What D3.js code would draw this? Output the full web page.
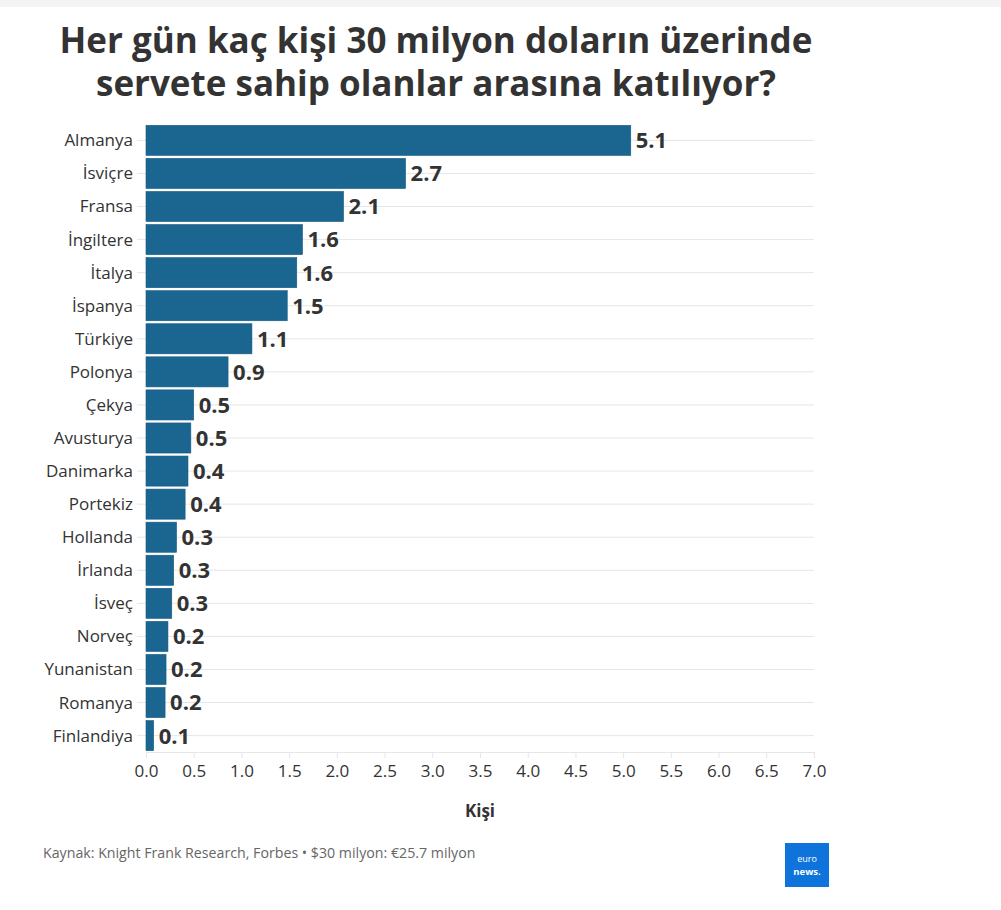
<!DOCTYPE html>
<html>
<head>
<meta charset="utf-8">
<script src="https://cdn.jsdelivr.net/npm/d3@7"></script>
<style>
  body { margin: 0; background: #fff; }
  svg { display: block; font-family: 'Open Sans', sans-serif; }
</style>
</head>
<body>
<div id="chart"></div>
<script>
// data
var countries = ['Almanya', 'İsviçre', 'Fransa', 'İngiltere', 'İtalya', 'İspanya', 'Türkiye', 'Polonya',
  'Çekya', 'Avusturya', 'Danimarka', 'Portekiz', 'Hollanda', 'İrlanda', 'İsveç', 'Norveç',
  'Yunanistan', 'Romanya', 'Finlandiya'];
var peoplePerDay = [5.08, 2.72, 2.07, 1.64, 1.58, 1.48, 1.11, 0.86,
  0.50, 0.47, 0.44, 0.41, 0.32, 0.29, 0.27, 0.23,
  0.21, 0.20, 0.08];
var xTicks = [0, 0.5, 1, 1.5, 2, 2.5, 3, 3.5, 4, 4.5, 5, 5.5, 6, 6.5, 7];
var titleLines = ['Her gün kaç kişi 30 milyon doların üzerinde', 'servete sahip olanlar arasına katılıyor?'];

var width = 1001, height = 910;
var margin = { left: 146, right: 187, top: 124, bottom: 158 };

var svg = d3.select('#chart').append('svg')
  .attr('width', width)
  .attr('height', height);

svg.append('rect')
  .attr('width', width).attr('height', 7)
  .attr('fill', '#f4f4f4');

svg.append('text')
  .attr('x', 436)
  .attr('y', 53)
  .attr('text-anchor', 'middle')
  .attr('font-size', 35)
  .attr('font-weight', 700)
  .attr('fill', '#333')
  .selectAll('tspan')
  .data(titleLines)
  .enter().append('tspan')
  .attr('x', 436)
  .attr('dy', function(d, i) { return i ? 43 : 0; })
  .text(function(d) { return d; });

var x = d3.scaleLinear()
  .domain([0, 7])
  .range([margin.left, width - margin.right]);

var y = d3.scaleBand()
  .domain(countries)
  .range([margin.top, height - margin.bottom])
  .paddingInner(0.09)
  .paddingOuter(0.04);

var rows = countries.map(function(c, i) { return { name: c, value: peoplePerDay[i] }; });

// horizontal grid lines, one per category
svg.append('g')
  .selectAll('line')
  .data(countries)
  .enter().append('line')
  .attr('x1', margin.left - 9)
  .attr('x2', x(7))
  .attr('y1', function(d) { return y(d) + y.bandwidth() / 2; })
  .attr('y2', function(d) { return y(d) + y.bandwidth() / 2; })
  .attr('stroke', '#e6e6e6')
  .attr('stroke-width', 1);

svg.append('g')
  .selectAll('rect')
  .data(rows)
  .enter().append('rect')
  .attr('x', x(0))
  .attr('y', function(d) { return y(d.name); })
  .attr('width', function(d) { return x(d.value) - x(0); })
  .attr('height', y.bandwidth())
  .attr('fill', '#1b6591')
  .attr('stroke', '#175a82')
  .attr('stroke-width', 0.6);

svg.append('g')
  .selectAll('text')
  .data(rows)
  .enter().append('text')
  .attr('x', function(d) { return x(d.value) + 5; })
  .attr('y', function(d) { return y(d.name) + y.bandwidth() / 2; })
  .attr('dy', '0.36em')
  .attr('font-size', 22)
  .attr('font-weight', 700)
  .attr('fill', '#333')
  .text(function(d) { return d3.format('.1f')(d.value); });

// category labels
svg.append('g')
  .selectAll('text')
  .data(countries)
  .enter().append('text')
  .attr('x', margin.left - 13)
  .attr('y', function(d) { return y(d) + y.bandwidth() / 2; })
  .attr('dy', '0.35em')
  .attr('text-anchor', 'end')
  .attr('font-size', 17)
  .attr('fill', '#333')
  .text(function(d) { return d; });

var xAxis = svg.append('g')
  .attr('transform', 'translate(0,' + (height - margin.bottom) + ')')
  .call(d3.axisBottom(x).tickValues(xTicks).tickFormat(d3.format('.1f')).tickSize(6).tickPadding(7));
xAxis.select('.domain').attr('stroke', '#e6e6e6');
xAxis.selectAll('.tick line').attr('stroke', '#e6e6e6');
xAxis.selectAll('.tick text')
  .attr('font-family', 'Open Sans, sans-serif')
  .attr('font-size', 17)
  .attr('fill', '#333');

svg.append('text')
  .attr('x', x(3.5))
  .attr('y', 817)
  .attr('text-anchor', 'middle')
  .attr('font-size', 17)
  .attr('font-weight', 700)
  .attr('fill', '#333')
  .text('Kişi');

svg.append('text')
  .attr('x', 43)
  .attr('y', 858)
  .attr('font-size', 14.2)
  .attr('fill', '#666')
  .text('Kaynak: Knight Frank Research, Forbes • $30 milyon: €25.7 milyon');

// euronews logo
var logo = svg.append('g').attr('transform', 'translate(785,843)');
logo.append('rect').attr('width', 44).attr('height', 44).attr('fill', '#0e74dc');
logo.append('text')
  .attr('x', 22).attr('y', 19)
  .attr('text-anchor', 'middle')
  .attr('font-size', 9)
  .attr('fill', '#fff')
  .text('euro');
logo.append('text')
  .attr('x', 22).attr('y', 32)
  .attr('text-anchor', 'middle')
  .attr('font-size', 9.5)
  .attr('font-weight', 700)
  .attr('fill', '#fff')
  .text('news.');
</script>
</body>
</html>
